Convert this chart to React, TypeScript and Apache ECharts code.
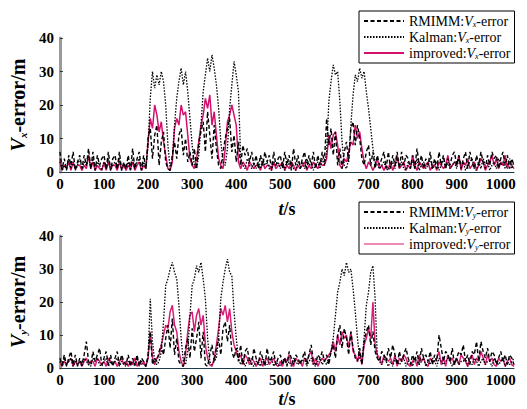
import React, { useEffect, useRef } from "react";
import * as echarts from "echarts";

// time step 5 s, t = 0 .. 1030
const STEP = 5;

// ---- Top panel: Vx error ----
const rmimmX = [
  6,1,4,0.5,5,2,6,0.5,3,5,
  1,5,2,7,1,6,0.5,5,2,4,
  5,1,6,0.5,4,5,1,6,0.5,3,
  1,5,0.5,7,1,4,6,0.5,5,1,
  10,13,4,11,14,2,9,12,3,1,
  0.5,5,9,4,11,13,5,10,3,6,
  2,7,1,9,12,15,6,18,11,4,
  14,7,2,1,6,10,13,16,6,11,
  3,9,2,8,5,7,3,6,2,5,
  1,5,2,6,3,5,1,6,2,4,
  5,1,6,2,5,0.5,7,2,5,1,
  4,6,1,5,2,6,1,5,2,6,
  3,16,8,13,5,12,2,7,1,6,
  9,3,13,15,8,14,10,4,2,6,
  8,2,6,1,5,2,4,6,1,6,
  1,5,2,6,1,6,2,5,4,1,
  5,1,7,2,5,1,4,2,6,1,
  4,1,6,2,5,1,4,2,5,6,
  2,5,1,4,6,1,6,3,1,5,
  2,6,3,1,5,2,6,4,5,1,
  4,6,2,5,1,4,2,
];
const kalmanX = [
  3,0.5,2,1,4,1,3,0.5,2,4,
  1,3,2,5,1,4,1,3,2,0.5,
  3,1,4,0.5,2,3,1,4,0.5,2,
  1,3,0.5,4,1,3,4,0.5,3,1,
  8,22,30,25,29,26,30,27,20,8,
  1,4,14,22,27,31,26,30,24,16,
  8,2,1,5,14,24,29,34,30,35,
  31,26,19,9,3,2,7,19,26,33,
  29,24,4,2,1,4,2,1,3,1,
  3,1,4,2,3,1,0.5,3,2,3,
  1,3,0.5,4,2,3,1,0.5,3,2,
  3,1,4,2,3,0.5,2,3,1,4,
  2,6,21,27,32,29,30,21,9,2,
  1,4,14,23,29,27,31,28,30,24,
  19,13,7,3,2,1,2,3,1,0.5,
  2,3,1,4,2,3,1,0.5,3,2,
  3,1,4,0.5,2,3,1,2,4,1,
  2,3,0.5,2,4,1,3,1,2,3,
  1,4,2,3,0.5,2,3,4,1,0.5,
  3,1,4,2,3,0.5,2,3,1,4,
  2,3,1,2,4,1,3,
];
const improvedX = [
  4,0.5,2,1,3,0.5,3,1,2,2,
  0.5,2,1,5,1,3,0.5,2,1,0.5,
  3,0.5,3,1,2,2,0.5,3,1,2,
  0.5,2,1,3,0.5,2,3,0.5,2,1,
  9,16,13,20,17,12,15,9,5,1,
  0.5,3,13,16,14,20,17,18,11,4,
  2,1,4,9,14,17,22,19,23,14,
  18,11,4,2,1,7,15,17,20,17,
  14,3,1,3,2,0.5,3,2,1,2,
  2,0.5,3,1,2,2,0.5,3,1,2,
  2,3,0.5,2,1,3,2,0.5,2,1,
  2,3,0.5,2,1,3,2,1,3,2,
  2,4,11,7,11,12,8,2,1,4,
  3,6,9,8,14,10,12,7,3,1,
  3,2,0.5,2,4,1,2,0.5,2,1,
  3,0.5,2,5,1,2,3,0.5,2,1,
  5,2,0.5,3,2,1,2,3,0.5,2,
  2,0.5,3,2,1,2,5,1,2,3,
  2,5,0.5,3,2,4,1,2,3,0.5,
  2,4,3,0.5,2,3,5,2,4,1,
  3,2,5,1,3,2,1,
];

// ---- Bottom panel: Vy error ----
const rmimmY = [
  3,1,4,0.5,3,5,1,4,0.5,3,
  1,4,8,2,1,5,2,4,6,1,
  3,5,1,4,0.5,3,5,1,4,2,
  1,4,0.5,3,1,4,0.5,3,2,0.5,
  4,11,1,3,2,5,7,4,9,13,
  6,15,4,9,2,1,0.5,6,9,3,
  12,5,9,14,3,11,1,0.5,4,7,
  2,6,9,4,12,14,8,13,5,3,
  6,2,7,1,5,6,2,1,6,3,
  1,5,3,0.5,6,2,3,5,1,3,
  4,1,3,0.5,5,3,1,4,3,1,
  3,5,1,4,7,2,1,4,3,5,
  2,4,1,5,7,3,10,13,6,12,
  9,4,11,6,3,2,6,1,8,11,
  13,7,11,5,3,2,5,4,2,6,
  3,7,4,1,5,2,4,6,3,1,
  4,2,5,1,6,3,4,2,5,1,
  4,2,10,6,2,5,4,2,6,1,
  3,5,4,7,2,4,1,5,4,8,
  2,8,5,3,6,2,5,4,1,3,
  5,2,4,1,4,3,1,
];
const kalmanY = [
  2,0.5,3,1,2,3,0.5,2,1,2,
  0.5,3,2,1,0.5,3,2,3,1,0.5,
  2,3,0.5,2,1,2,3,0.5,2,1,
  0.5,2,1,2,0.5,3,1,2,1,0.5,
  3,21,8,2,1,2,5,14,25,27,
  30,32,29,27,19,9,2,1,5,16,
  25,27,31,29,32,27,21,9,2,1,
  2,3,9,21,26,30,33,29,28,17,
  9,3,1,3,0.5,2,3,1,0.5,2,
  2,0.5,3,2,1,2,3,0.5,2,1,
  0.5,2,3,1,2,0.5,3,2,1,2,
  2,3,0.5,2,3,1,0.5,2,3,1,
  2,1,3,5,9,16,23,26,30,28,
  32,29,30,24,17,9,3,2,9,19,
  23,29,31,21,3,2,1,3,2,0.5,
  2,0.5,3,2,1,2,3,0.5,2,2,
  0.5,3,2,1,2,3,0.5,2,1,3,
  2,0.5,3,2,1,2,3,2,0.5,2,
  3,1,2,2,3,0.5,2,1,3,2,
  0.5,2,3,1,2,2,0.5,3,2,1,
  2,3,0.5,2,1,2,3,
];
const improvedY = [
  2,0.5,2,1,2,3,0.5,2,1,2,
  0.5,2,3,1,2,2,0.5,3,2,1,
  2,0.5,3,2,1,2,0.5,2,3,1,
  2,0.5,2,1,3,0.5,2,1,2,0.5,
  3,11,3,1,3,4,7,10,13,12,
  17,19,13,11,5,2,0.5,4,11,16,
  17,11,16,18,13,16,7,3,1,0.5,
  3,7,12,18,16,19,14,18,11,7,
  5,3,4,1,4,3,1,3,2,0.5,
  2,3,0.5,2,3,1,2,3,1,0.5,
  2,0.5,3,2,4,1,0.5,3,2,2,
  0.5,3,2,4,5,1,3,0.5,2,3,
  2,3,4,5,8,5,10,7,11,9,
  10,6,11,5,4,2,5,1,7,9,
  12,9,20,7,4,3,1,4,3,2,
  3,1,4,0.5,3,2,4,3,1,0.5,
  2,3,0.5,4,2,3,1,0.5,3,2,
  2,3,5,1,3,0.5,4,2,3,1,
  3,1,4,3,2,0.5,3,4,1,3,
  2,5,3,1,4,2,3,1,0.5,3,
  2,3,0.5,2,3,1,0.5,
];

const xTicks = [0, 100, 200, 300, 400, 500, 600, 700, 800, 900, 1000];
const yTicks = [0, 10, 20, 30, 40];

const NAMES_X = ["RMIMM:Vx-error", "Kalman:Vx-error", "improved:Vx-error"];
const NAMES_Y = ["RMIMM:Vy-error", "Kalman:Vy-error", "improved:Vy-error"];

const SERIF = "'Liberation Serif', 'DejaVu Serif', serif";
const MAGENTA = "#d4106e";

const toPairs = (arr: number[]) => arr.map((v, i) => [i * STEP, v]);

const richCommon = (size: number, bold: boolean) => ({
  n: { fontFamily: SERIF, fontSize: size, fontWeight: bold ? "bold" : "normal", color: "#000" },
  i: { fontFamily: SERIF, fontSize: size, fontWeight: bold ? "bold" : "normal", fontStyle: "italic", color: "#000" },
  s: {
    fontFamily: SERIF,
    fontSize: Math.round(size * 0.55),
    fontWeight: bold ? "bold" : "normal",
    fontStyle: "italic",
    color: "#000",
    verticalAlign: "bottom",
  },
});

const legendFormatter = (name: string) => {
  const m = name.match(/^(\w+):V(\w)-error$/);
  if (!m) return name;
  return `{n|${m[1]}:}{i|V}{s|${m[2]}}{n|-error}`;
};

function makeXAxis(gridIndex: number, nameGap: number) {
  return {
    type: "value",
    gridIndex,
    min: 0,
    max: 1030,
    interval: 100,
    name: "{i|t}{n|/s}",
    nameLocation: "middle",
    nameGap,
    nameTextStyle: { rich: richCommon(18, true) },
    axisLine: { show: true, onZero: false, lineStyle: { color: "#1d3a48", width: 1 } },
    axisTick: { show: false },
    splitLine: { show: false },
    axisLabel: {
      margin: 4,
      fontFamily: SERIF,
      fontSize: 15,
      fontWeight: "bold",
      color: "#000",
      formatter: (v: number) => (xTicks.includes(v) ? String(v) : ""),
    },
  };
}

function makeYAxis(gridIndex: number, sub: string) {
  return {
    type: "value",
    gridIndex,
    min: 0,
    max: 40,
    interval: 10,
    name: `{i|V}{s|${sub}}{n|-error/m}`,
    nameLocation: "middle",
    nameGap: 26,
    nameTextStyle: { rich: richCommon(20, true) },
    axisLine: { show: true, lineStyle: { color: "#9a9a9a", width: 3 } },
    axisTick: { show: true, inside: true, length: 3, lineStyle: { color: "#333", width: 1 } },
    splitLine: { show: false },
    axisLabel: {
      margin: 6,
      fontFamily: SERIF,
      fontSize: 15,
      fontWeight: "bold",
      color: "#000",
      formatter: (v: number) => (yTicks.includes(v) ? String(v) : ""),
    },
  };
}

function makeSeries(names: string[], r: number[], k: number[], im: number[], idx: number, imColor: string) {
  return [
    {
      name: names[2],
      type: "line",
      xAxisIndex: idx,
      yAxisIndex: idx,
      data: toPairs(im),
      symbol: "none",
      color: imColor,
      lineStyle: { color: imColor, width: 1.5 },
    },
    {
      name: names[1],
      type: "line",
      xAxisIndex: idx,
      yAxisIndex: idx,
      data: toPairs(k),
      symbol: "none",
      color: "#000",
      lineStyle: { color: "#000", width: 1.3, type: [1.5, 1.5] },
    },
    {
      name: names[0],
      type: "line",
      xAxisIndex: idx,
      yAxisIndex: idx,
      data: toPairs(r),
      symbol: "none",
      color: "#000",
      lineStyle: { color: "#000", width: 1.4, type: [4, 2.5] },
    },
  ];
}

function makeLegend(names: string[], top: number, improvedLegendColor: string) {
  return {
    orient: "vertical",
    left: 359,
    top,
    padding: [3, 4, 3, 4],
    itemGap: 2,
    itemWidth: 40,
    itemHeight: 10,
    borderColor: "#000",
    borderWidth: 1,
    backgroundColor: "#fff",
    z: 10,
    itemStyle: { opacity: 0 },
    data: [
      { name: names[0] },
      { name: names[1] },
      { name: names[2], lineStyle: { color: improvedLegendColor } },
    ],
    formatter: legendFormatter,
    textStyle: { fontFamily: SERIF, fontSize: 14, color: "#000", rich: richCommon(14, false) },
  };
}

export default function App() {
  const ref = useRef<HTMLDivElement>(null);
  useEffect(() => {
    if (!ref.current) return;
    const chart = echarts.init(ref.current, undefined, { renderer: "svg" });
    chart.setOption({
      animation: false,
      backgroundColor: "#fff",
      grid: [
        { left: 59, right: 13, top: 38, height: 134 },
        { left: 59, right: 13, top: 236, height: 137 },
      ],
      xAxis: [makeXAxis(0, 28), makeXAxis(1, 22)],
      yAxis: [makeYAxis(0, "x"), makeYAxis(1, "y")],
      legend: [makeLegend(NAMES_X, 11, MAGENTA), makeLegend(NAMES_Y, 202, "#ee8ab4")],
      series: [
        ...makeSeries(NAMES_X, rmimmX, kalmanX, improvedX, 0, MAGENTA),
        ...makeSeries(NAMES_Y, rmimmY, kalmanY, improvedY, 1, "#d81e78"),
      ],
    });
    return () => chart.dispose();
  }, []);
  return (
    <div
      ref={ref}
      style={{ position: "fixed", left: 0, top: 0, width: 527, height: 409, background: "#fff" }}
    />
  );
}
